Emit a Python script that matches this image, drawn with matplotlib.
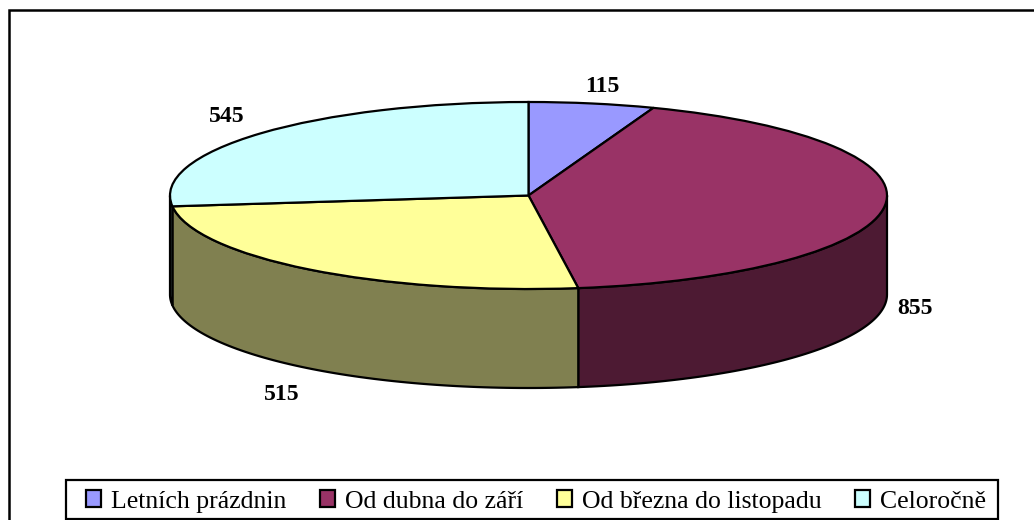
import numpy as np
import matplotlib
matplotlib.use("Agg")
from matplotlib import pyplot as plt
from matplotlib.patches import Rectangle

categories = ["Letních prázdnin", "Od dubna do září", "Od března do listopadu", "Celoročně"]
values = [115, 855, 515, 545]
labels = ["115", "855", "515", "545"]
top_colors = ["#9999FF", "#993366", "#FFFF99", "#CCFFFF"]
side_colors = ["#4D4D80", "#4D1A33", "#808050", "#668080"]
label_px = [(602, 86), (915, 309), (282, 394), (227, 117)]

W, H = 1034, 520
# pie ellipse in pixels
cx, cy, rx, ry, depth = 528.5, 195.5, 358.5, 93.5, 99

plt.rcParams["font.family"] = ["Liberation Serif", "DejaVu Serif"]
fig = plt.figure(figsize=(W / 100, H / 100), dpi=100)
ax = fig.add_axes([0, 0, 1, 1])


def px(x, y):
    return (x - cx) / rx, (cy - y) / ry


# walls first, angles clockwise from the top of the pie
edges = np.cumsum([0] + values) / sum(values) * 360
d = depth / ry
for i in range(len(values)):
    a = max(edges[i], 90)
    b = min(edges[i + 1], 270)
    if a >= b:
        continue
    t = np.radians(np.linspace(a, b, 80))
    xs = np.sin(t)
    ys = np.cos(t)
    ax.fill(np.r_[xs, xs[::-1]], np.r_[ys, ys[::-1] - d],
            facecolor=side_colors[i], edgecolor="black", lw=1.6, zorder=1)

wedges, _ = ax.pie(values, colors=top_colors, startangle=90, counterclock=False,
                   radius=1, wedgeprops=dict(edgecolor="black", linewidth=1.6, zorder=2))
ax.set_aspect("auto")
ax.set_xlim(px(0, 0)[0], px(W, 0)[0])
ax.set_ylim(px(0, H)[1], px(0, 0)[1])
ax.axis("off")

for txt, (x, y) in zip(labels, label_px):
    ax.text(*px(x, y), txt, ha="center", va="center", fontsize=17, fontweight="bold", color="black")

# chart frame, runs off the picture at right and bottom
fr = Rectangle((9 / W, -10 / H), 1.1, 1.0, transform=fig.transFigure,
               fill=False, edgecolor="black", lw=1.8, clip_on=False)
fig.add_artist(fr)

# legend box drawn apart so its padding can differ left/top
box = Rectangle((65.5 / W, 1 - 519 / H), 932.5 / W, 39 / H, transform=fig.transFigure,
                facecolor="white", edgecolor="black", lw=1.6)
fig.add_artist(box)
leg = fig.legend(wedges, categories, ncol=4, loc="center left",
                 bbox_to_anchor=(86 / W, 1 - 501.5 / H), borderaxespad=0, borderpad=0,
                 fontsize=18.5, frameon=False, handlelength=0.585, handleheight=0.585,
                 handletextpad=0.4, columnspacing=1.29)
leg.set_zorder(5)

fig.savefig("out.png", dpi=100)
